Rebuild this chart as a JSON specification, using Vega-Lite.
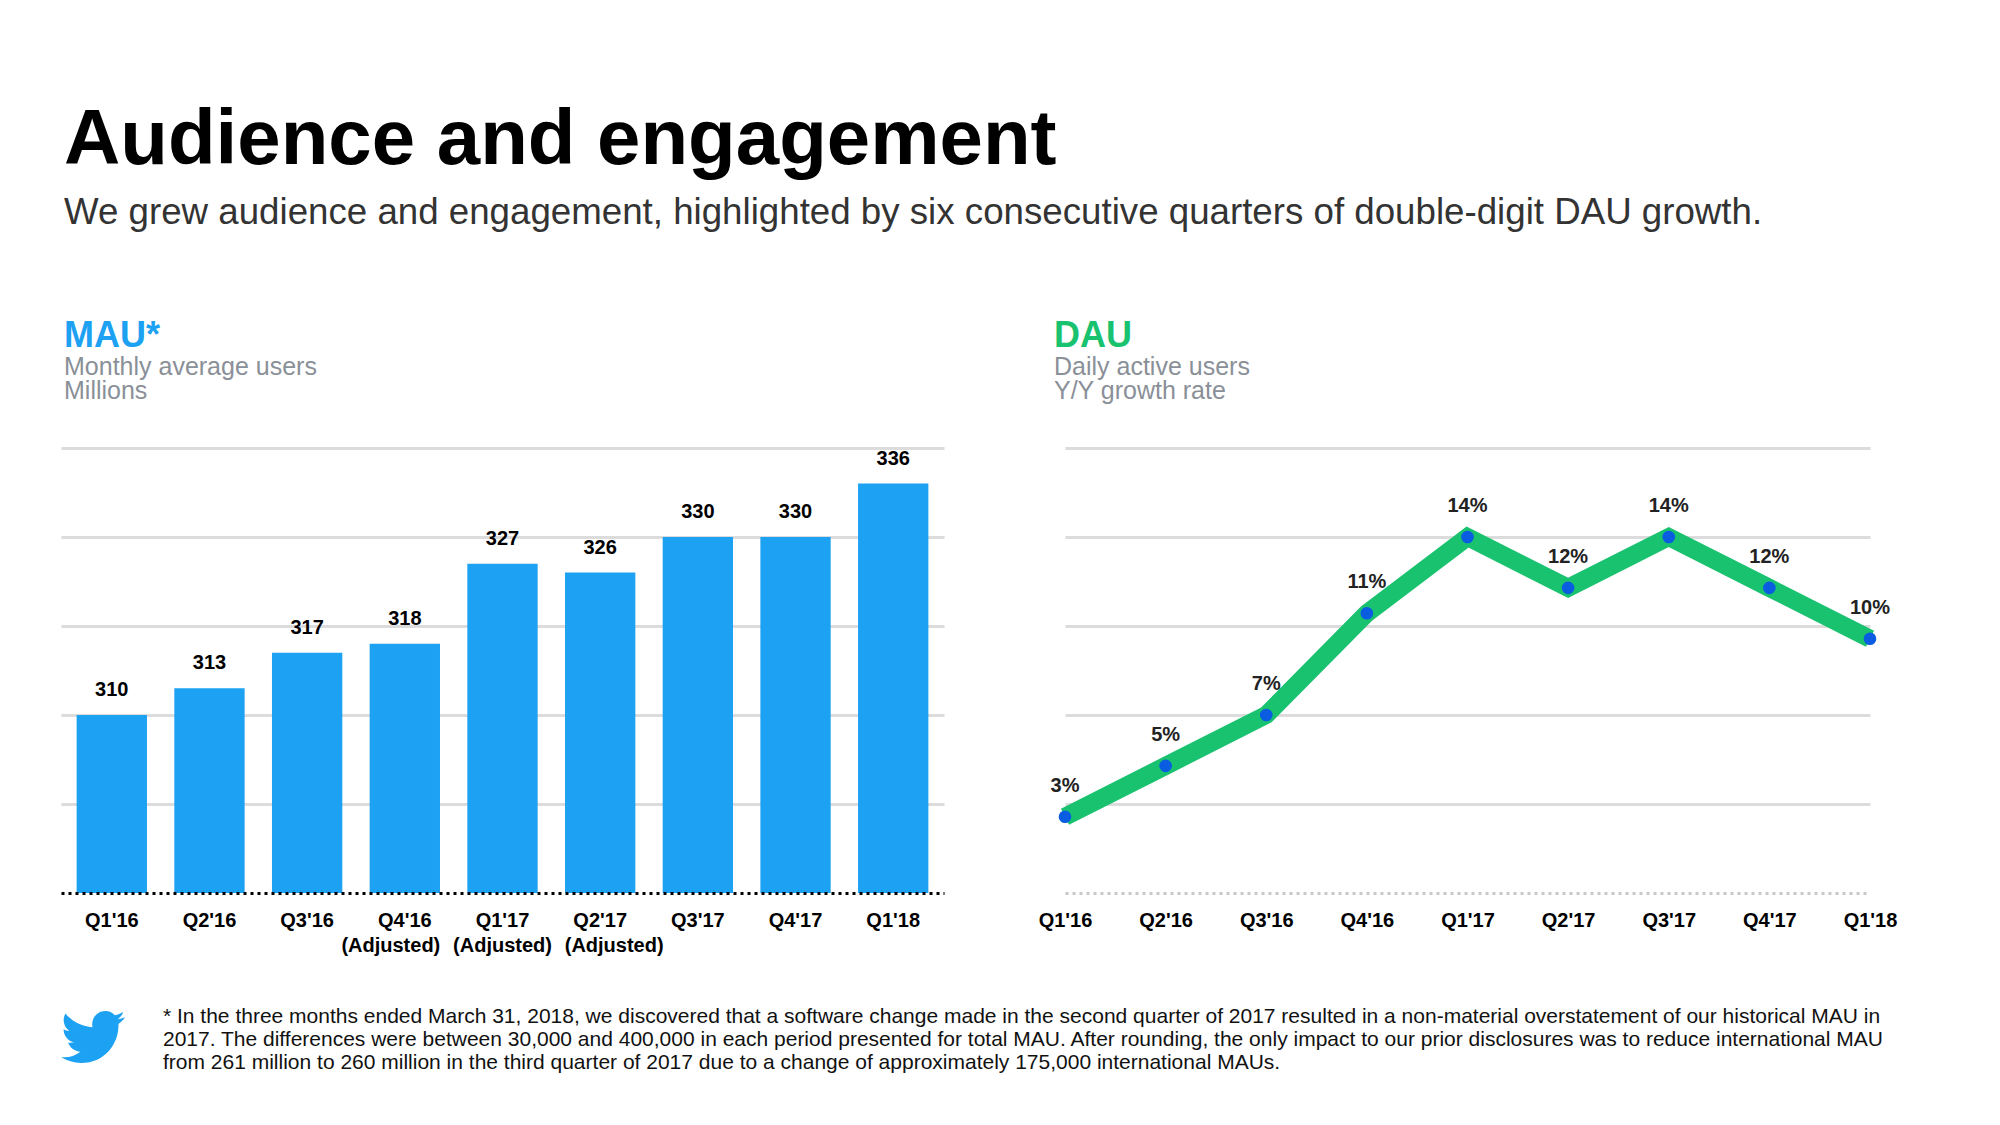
{
  "$schema": "https://vega.github.io/schema/vega-lite/v6.json",
  "background": "white",
  "padding": {"left": 61, "top": 101, "right": 0, "bottom": 0},
  "bounds": "full",
  "spacing": 50,
  "title": {
    "text": "Audience and engagement",
    "subtitle": "We grew audience and engagement, highlighted by six consecutive quarters of double-digit DAU growth.",
    "anchor": "start",
    "frame": "group",
    "dx": 3,
    "font": "Liberation Sans",
    "fontSize": 78,
    "fontWeight": "bold",
    "color": "#000000",
    "subtitleFont": "Liberation Sans",
    "subtitleFontSize": 36.7,
    "subtitleColor": "#333333",
    "subtitlePadding": 15.5,
    "offset": 86
  },
  "vconcat": [
    {
      "bounds": "flush",
      "spacing": 121,
      "hconcat": [
        {
          "width": 883,
          "height": 445,
          "title": {
            "text": "MAU*",
            "subtitle": ["Monthly average users", "Millions"],
            "anchor": "start",
            "frame": "group",
            "dx": 3,
            "font": "Liberation Sans",
            "fontSize": 36,
            "fontWeight": "bold",
            "color": "#1da1f2",
            "subtitleFont": "Liberation Sans",
            "subtitleFontSize": 25,
            "subtitleColor": "#8a9098",
            "subtitleLineHeight": 24,
            "subtitlePadding": 0,
            "offset": 43
          },
          "data": {
            "values": [
              {"quarter": "Q1'16", "mau": 310, "note": ""},
              {"quarter": "Q2'16", "mau": 313, "note": ""},
              {"quarter": "Q3'16", "mau": 317, "note": ""},
              {"quarter": "Q4'16", "mau": 318, "note": "(Adjusted)"},
              {"quarter": "Q1'17", "mau": 327, "note": "(Adjusted)"},
              {"quarter": "Q2'17", "mau": 326, "note": "(Adjusted)"},
              {"quarter": "Q3'17", "mau": 330, "note": ""},
              {"quarter": "Q4'17", "mau": 330, "note": ""},
              {"quarter": "Q1'18", "mau": 336, "note": ""}
            ]
          },
          "encoding": {
            "x": {
              "field": "quarter",
              "type": "nominal",
              "sort": null,
              "scale": {"paddingInner": 0.28, "paddingOuter": 0.16},
              "axis": {
                "title": null,
                "labelAngle": 0,
                "labelFont": "Liberation Sans",
                "labelFontSize": 20,
                "labelFontWeight": "bold",
                "labelColor": "#000000",
                "labelPadding": 17,
                "labelOverlap": false,
                "ticks": false,
                "tickSize": 0,
                "domain": true,
                "domainColor": "#000000",
                "domainWidth": 3,
                "domainDash": [3, 4],
                "grid": false,
                "zindex": 1
              }
            },
            "y": {
              "field": "mau",
              "type": "quantitative",
              "scale": {"domain": [290, 340], "zero": false, "nice": false},
              "axis": {
                "title": null,
                "values": [300, 310, 320, 330, 340],
                "labels": false,
                "ticks": false,
                "domain": false,
                "grid": true,
                "gridColor": "#dcdcdc",
                "gridWidth": 3
              }
            }
          },
          "layer": [
            {
              "mark": {"type": "bar", "color": "#1da1f2"},
              "encoding": {"y2": {"datum": 290}}
            },
            {
              "mark": {"type": "text", "font": "Liberation Sans", "fontSize": 20, "fontWeight": "bold", "color": "#000000", "baseline": "middle", "dy": -25},
              "encoding": {"text": {"field": "mau", "type": "quantitative"}}
            },
            {
              "mark": {
                "type": "text", "font": "Liberation Sans", "fontSize": 20, "fontWeight": "bold", "color": "#000000", "baseline": "middle", "dy": 53,
                "dx": {"expr": "datum.quarter == \"Q4'16\" ? -14 : datum.quarter == \"Q2'17\" ? 14 : 0"}
              },
              "encoding": {
                "y": {"datum": 290},
                "text": {"field": "note", "type": "nominal"}
              }
            }
          ]
        },
        {
          "width": 805,
          "height": 445,
          "title": {
            "text": "DAU",
            "subtitle": ["Daily active users", "Y/Y growth rate"],
            "anchor": "start",
            "frame": "group",
            "dx": -11,
            "font": "Liberation Sans",
            "fontSize": 36,
            "fontWeight": "bold",
            "color": "#19c26f",
            "subtitleFont": "Liberation Sans",
            "subtitleFontSize": 25,
            "subtitleColor": "#8a9098",
            "subtitleLineHeight": 24,
            "subtitlePadding": 0,
            "offset": 43
          },
          "data": {
            "values": [
              {"quarter": "Q1'16", "growth": 0.03},
              {"quarter": "Q2'16", "growth": 0.05},
              {"quarter": "Q3'16", "growth": 0.07},
              {"quarter": "Q4'16", "growth": 0.11},
              {"quarter": "Q1'17", "growth": 0.14},
              {"quarter": "Q2'17", "growth": 0.12},
              {"quarter": "Q3'17", "growth": 0.14},
              {"quarter": "Q4'17", "growth": 0.12},
              {"quarter": "Q1'18", "growth": 0.10}
            ]
          },
          "encoding": {
            "x": {
              "field": "quarter",
              "type": "ordinal",
              "sort": null,
              "scale": {"type": "point", "padding": 0},
              "axis": {
                "title": null,
                "labelAngle": 0,
                "labelFont": "Liberation Sans",
                "labelFontSize": 20,
                "labelFontWeight": "bold",
                "labelColor": "#000000",
                "labelPadding": 17,
                "labelOverlap": false,
                "ticks": false,
                "tickSize": 0,
                "domain": true,
                "domainColor": "#c8c8c8",
                "domainWidth": 3,
                "domainDash": [3, 4],
                "grid": false
              }
            },
            "y": {
              "field": "growth",
              "type": "quantitative",
              "scale": {"domain": [0, 0.175], "nice": false},
              "axis": {
                "title": null,
                "values": [0.035, 0.07, 0.105, 0.14, 0.175],
                "labels": false,
                "ticks": false,
                "domain": false,
                "grid": true,
                "gridColor": "#dcdcdc",
                "gridWidth": 3
              }
            }
          },
          "layer": [
            {
              "mark": {"type": "line", "color": "#19c26f", "strokeWidth": 18, "strokeCap": "butt", "strokeJoin": "miter"}
            },
            {
              "mark": {"type": "point", "shape": "circle", "filled": true, "size": 160, "color": "#0a5ce0", "opacity": 1}
            },
            {
              "mark": {"type": "text", "font": "Liberation Sans", "fontSize": 20, "fontWeight": "bold", "color": "#222222", "baseline": "middle", "dy": -31},
              "encoding": {"text": {"field": "growth", "type": "quantitative", "format": ".0%"}}
            }
          ]
        }
      ]
    },
    {
      "width": 1830,
      "height": 46,
      "layer": [
        {
          "data": {
            "values": [
              {"line": 1, "text": "* In the three months ended March 31, 2018, we discovered that a software change made in the second quarter of 2017 resulted in a non-material overstatement of our historical MAU in"},
              {"line": 2, "text": "2017. The differences were between 30,000 and 400,000 in each period presented for total MAU. After rounding, the only impact to our prior disclosures was to reduce international MAU"},
              {"line": 3, "text": "from 261 million to 260 million in the third quarter of 2017 due to a change of approximately 175,000 international MAUs."}
            ]
          },
          "mark": {"type": "text", "align": "left", "baseline": "middle", "font": "Liberation Sans", "fontSize": 21, "color": "#111111"},
          "encoding": {
            "y": {"field": "line", "type": "ordinal", "axis": null, "scale": {"type": "point", "padding": 0}},
            "x": {"value": 102},
            "text": {"field": "text"}
          }
        },
        {
          "data": {"values": [{"icon": "twitter"}]},
          "mark": {
            "type": "point",
            "shape": "M459.37 151.716c.325 4.548.325 9.097.325 13.645 0 138.72-105.583 298.558-298.558 298.558-59.452 0-114.68-17.219-161.137-47.106 8.447.974 16.568 1.299 25.34 1.299 49.055 0 94.213-16.568 130.274-44.832-46.132-.975-84.792-31.188-98.112-72.772 6.498.974 12.995 1.624 19.818 1.624 9.421 0 18.843-1.3 27.614-3.573-48.081-9.747-84.143-51.98-84.143-102.985v-1.299c13.969 7.797 30.214 12.67 47.431 13.319-28.264-18.843-46.781-51.005-46.781-87.391 0-19.492 5.197-37.360 14.294-52.954 51.655 63.675 129.3 105.258 216.365 109.807-1.624-7.797-2.599-15.918-2.599-24.040 0-57.828 46.782-104.934 104.934-104.934 30.213 0 57.502 12.670 76.670 33.137 23.715-4.548 46.456-13.320 66.599-25.340-7.798 24.366-24.366 44.833-46.132 57.827 21.117-2.273 41.584-8.122 60.426-16.243-14.292 20.791-32.161 39.308-52.628 54.253z",
            "filled": true,
            "size": 0.0625,
            "color": "#1da1f2",
            "opacity": 1,
            "strokeWidth": 0,
            "yOffset": -12
          },
          "encoding": {
            "x": {"value": 0},
            "y": {"datum": 1, "type": "ordinal"}
          }
        }
      ]
    }
  ],
  "config": {"view": {"stroke": null}}
}
